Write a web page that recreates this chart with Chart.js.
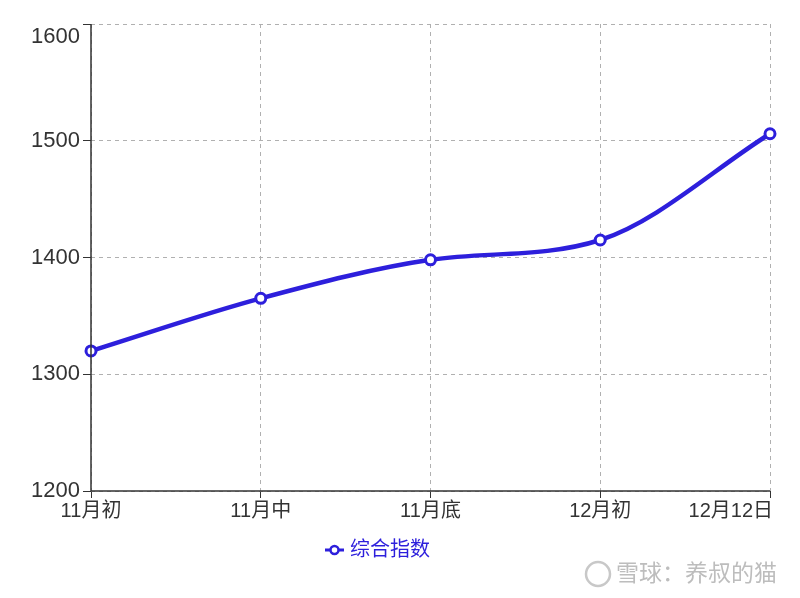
<!DOCTYPE html>
<html lang="zh-cn">
<head>
<meta charset="UTF-8">
<title>综合指数</title>
<script src="https://cdn.jsdelivr.net/npm/chart.js"></script>
<style>
  html, body { margin: 0; padding: 0; background: #fff; }
  #box { width: 800px; height: 598px; }
</style>
</head>
<body>
<div id="box"><canvas id="grafico"></canvas></div>
<script>
// dados
const categorias = ["11月初", "11月中", "11月底", "12月初", "12月12日"];
const valores = [1320, 1365, 1398, 1415, 1506];
const nomeSerie = "综合指数";
const ticksY = [1200, 1300, 1400, 1500, 1600];
const marcaDagua = "雪球：养叔的猫";

const azul = "#2d1fdc";
const fonte = '"Liberation Sans", "Noto Sans CJK SC", sans-serif';

// desenha eixos, rótulos dos eixos, legenda e marca d'água
const extras = {
  id: "extras",
  afterDraw(chart) {
    const c = chart.ctx;
    const x = chart.scales.x;
    const y = chart.scales.y;
    const a = chart.chartArea;
    c.save();
    // linhas dos eixos (sólidas)
    c.strokeStyle = "#333";
    c.lineWidth = 1.5;
    c.beginPath();
    c.moveTo(a.left, a.top);
    c.lineTo(a.left, a.bottom);
    c.lineTo(a.right, a.bottom);
    c.stroke();

    // rótulos do eixo Y (o do topo fica abaixo da marca, como no original)
    c.font = "22px " + fonte;
    c.fillStyle = "#333";
    c.textAlign = "right";
    ticksY.forEach(v => {
      const py = y.getPixelForValue(v);
      if (v === ticksY[ticksY.length - 1]) {
        c.textBaseline = "top";
        c.fillText(String(v), 80, py + 2);
      } else {
        c.textBaseline = "middle";
        c.fillText(String(v), 80, py);
      }
    });

    // rótulos do eixo X
    c.font = "20px " + fonte;
    c.textBaseline = "middle";
    categorias.forEach((txt, i) => {
      const px = x.getPixelForTick(i);
      if (i === categorias.length - 1) {
        c.textAlign = "right";
        c.fillText(txt, px + 3, 511);
      } else {
        c.textAlign = "center";
        c.fillText(txt, px, 511);
      }
    });

    // legenda
    c.strokeStyle = azul;
    c.lineWidth = 3;
    c.beginPath();
    c.moveTo(325, 550);
    c.lineTo(344, 550);
    c.stroke();
    c.beginPath();
    c.arc(334.5, 550, 4, 0, Math.PI * 2);
    c.fillStyle = "#fff";
    c.fill();
    c.lineWidth = 2.5;
    c.stroke();
    c.fillStyle = azul;
    c.textAlign = "left";
    c.fillText(nomeSerie, 350, 550);

    // marca d'água
    c.strokeStyle = "#c8c8c8";
    c.lineWidth = 2.5;
    c.beginPath();
    c.arc(598, 574, 12, 0, Math.PI * 2);
    c.stroke();
    c.fillStyle = "#bdbdbd";
    c.font = "23px " + fonte;
    c.fillText(marcaDagua, 616, 575);
    c.restore();
  }
};

new Chart(document.getElementById("grafico"), {
  type: "line",
  data: {
    labels: categorias,
    datasets: [{
      label: nomeSerie,
      data: valores,
      borderColor: azul,
      borderWidth: 4.5,
      cubicInterpolationMode: "monotone",
      pointRadius: 5,
      pointBorderWidth: 3,
      pointBackgroundColor: "#fff",
      pointBorderColor: azul
    }]
  },
  options: {
    responsive: true,
    maintainAspectRatio: false,
    animation: false,
    layout: { padding: { top: 24, right: 30, left: 0, bottom: 0 } },
    plugins: { legend: { display: false }, tooltip: { enabled: false } },
    scales: {
      x: {
        offset: false,
        ticks: { display: false },
        grid: { color: "#b0b0b0", tickColor: "#333", tickLength: 7, tickBorderDash: [] },
        border: { display: false, dash: [4, 4] },
        afterFit: s => { s.height = 107; }
      },
      y: {
        min: 1200,
        max: 1600,
        afterBuildTicks: s => { s.ticks = ticksY.map(v => ({ value: v })); },
        ticks: { display: false },
        grid: { color: "#b0b0b0", tickColor: "#333", tickLength: 8, tickBorderDash: [] },
        border: { display: false, dash: [4, 4] },
        afterFit: s => { s.width = 91; }
      }
    }
  },
  plugins: [extras]
});
</script>
</body>
</html>
